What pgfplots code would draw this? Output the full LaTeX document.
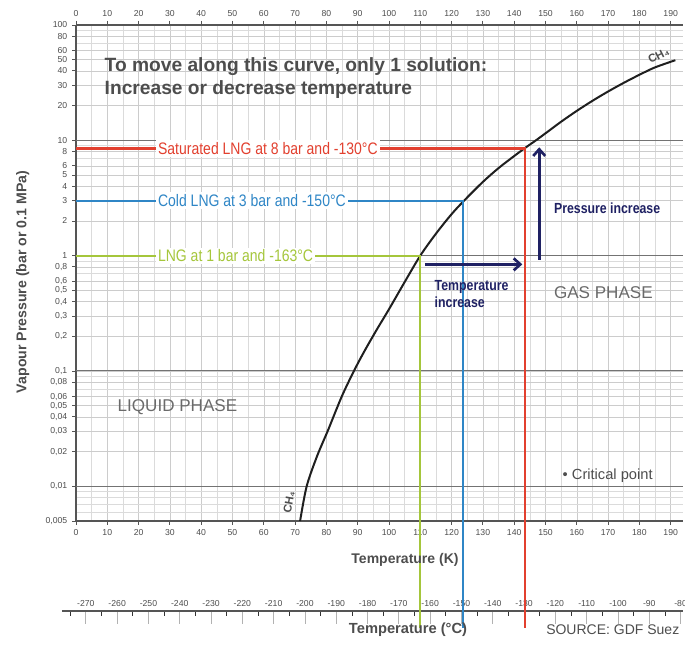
\documentclass[border=0pt]{standalone}
\usepackage{pgfplots}
\pgfplotsset{compat=1.18}
\usepackage{fontspec}
\setmainfont{Liberation Sans}
\newfontfamily\narrowfont{Liberation Sans}[FakeStretch=0.84]
\usetikzlibrary{arrows.meta}
\definecolor{lngred}{HTML}{E2402F}
\definecolor{lngblue}{HTML}{2F86C6}
\definecolor{lnggreen}{HTML}{A5C63B}
\definecolor{navy}{HTML}{1F2163}
\definecolor{txtgray}{HTML}{4D4D4D}
\definecolor{axgray}{HTML}{555555}
\definecolor{phasegray}{HTML}{6A6A6A}
\begin{document}
\begin{tikzpicture}
% ---------------- Celsius axis ----------------
\begin{axis}[
  at={(-10.56pt,-77.5pt)}, anchor=south west,
  scale only axis, width=465.98pt, height=10pt,
  xmin=-4.5, xmax=194, ymin=0, ymax=1,
  axis x line*=top, axis y line=none,
  axis line style={axgray, line width=1.2pt},
  xtick={3.15,13.15,23.15,33.15,43.15,53.15,63.15,73.15,83.15,93.15,103.15,113.15,123.15,133.15,143.15,153.15,163.15,173.15,183.15,193.15},
  xticklabels={-270,-260,-250,-240,-230,-220,-210,-200,-190,-180,-170,-160,-150,-140,-130,-120,-110,-100,-90,-80},
  minor xtick={-1.85,8.15,18.15,28.15,38.15,48.15,58.15,68.15,78.15,88.15,98.15,108.15,118.15,128.15,138.15,148.15,158.15,168.15,178.15,188.15},
  tick align=inside,
  major tick length=10pt, minor tick length=4pt,
  major tick style={black!30, line width=0.6pt},
  minor tick style={black!80, line width=0.6pt},
  xticklabel style={font=\fontsize{6.5}{7}\selectfont, text=txtgray},
]
\addplot[draw=none] coordinates {(0,0)};
\end{axis}
% ---------------- Main axis ----------------
\begin{axis}[
  at={(0pt,0pt)}, anchor=south west,
  scale only axis, width=455.4pt, height=372pt,
  xmin=0, xmax=194, ymode=log, ymin=0.005, ymax=100,
  axis x line*=box, axis y line*=left,
  axis line style={axgray, line width=1.3pt},
  clip=false,
  xtick={0,10,...,190},
  minor xtick={5,15,...,185},
  ytick={0.005,0.01,0.02,0.03,0.04,0.05,0.06,0.08,0.1,0.2,0.3,0.4,0.5,0.6,0.8,1,2,3,4,5,6,8,10,20,30,40,50,60,80,100},
  yticklabels={{0,005},{0,01},{0,02},{0,03},{0,04},{0,05},{0,06},{0,08},{0,1},{0,2},{0,3},{0,4},{0,5},{0,6},{0,8},1,2,3,4,5,6,8,10,20,30,40,50,60,80,100},
  minor ytick={0.006,0.007,0.008,0.009,0.07,0.09,0.7,0.9,7,9,70,90},
  extra y ticks={0.01,0.1,1,10},
  extra y tick labels={},
  extra y tick style={major grid style={draw=black!55, line width=0.7pt}},
  grid=both,
  major grid style={draw=black!20, line width=0.4pt},
  minor grid style={draw=black!14, line width=0.4pt},
  tick align=outside,
  major tick length=3pt, minor tick length=0pt,
  tick style={axgray, line width=0.6pt},
  ticklabel style={font=\fontsize{6.5}{7}\selectfont, text=txtgray},
  /pgf/number format/assume math mode=true,
]
% CH4 vapour pressure curve
\addplot[black!88, line width=1.5pt, smooth, tension=0.5] coordinates {
 (71.6,0.005) (73.7,0.010) (77,0.0182) (80.6,0.031) (84.9,0.060) (88.8,0.100)
 (92,0.146) (96,0.226) (100,0.343) (105,0.59) (110,1.0) (115,1.55) (120,2.29)
 (124,3.0) (130,4.36) (135,5.74) (140,7.31) (144,8.79) (146.6,9.84) (150,11.5)
 (155,14.5) (160,18.0) (165,22.0) (170,26.5) (175,31.5) (180,37.0) (185,42.9) (191.5,49.5)};
% LNG state lines
\addplot[lnggreen, line width=1.6pt] coordinates {(0,1) (110,1) (110,0.00059)};
\addplot[lngblue, line width=1.6pt] coordinates {(0,3) (123.7,3) (123.7,0.00059)};
\addplot[lngred, line width=1.6pt] coordinates {(0,8.5) (143.5,8.5) (143.5,0.00059)};
% arrows
\addplot[navy, line width=2.2pt, -{Straight Barb[length=5pt,width=9pt,line width=2pt]}] coordinates {(111.5,0.84) (142.6,0.84)};
\addplot[navy, line width=2.2pt, -{Straight Barb[length=5pt,width=9pt,line width=2pt]}] coordinates {(148,0.92) (148,8.7)};
% labels on lines
\node[anchor=west, fill=white, inner sep=1.5pt, text=lngred, font=\narrowfont\fontsize{12.5}{14}\selectfont] at (axis cs:25.5,8.5) {Saturated LNG at 8 bar and -130°C};
\node[anchor=west, fill=white, inner sep=1.5pt, text=lngblue, font=\narrowfont\fontsize{12.5}{14}\selectfont] at (axis cs:25.5,3) {Cold LNG at 3 bar and -150°C};
\node[anchor=west, fill=white, inner sep=1.5pt, text=lnggreen, font=\narrowfont\fontsize{12.5}{14}\selectfont] at (axis cs:25.5,1) {LNG at 1 bar and -163°C};
\end{axis}
% ---------------- Top tick labels ----------------
\begin{axis}[
  at={(0pt,0pt)}, anchor=south west,
  scale only axis, width=455.4pt, height=372pt,
  xmin=0, xmax=194, ymin=0, ymax=1,
  axis x line*=top, axis y line=none,
  axis line style={axgray, line width=1.3pt},
  xtick={0,10,...,190},
  tick align=outside, major tick length=3pt,
  tick style={axgray, line width=0.6pt},
  ticklabel style={font=\fontsize{6.5}{7}\selectfont, text=txtgray},
  /pgf/number format/assume math mode=true,
]
\addplot[draw=none] coordinates {(0,0)};
\end{axis}
% ---------------- Text ----------------
\node[anchor=west, align=left, text=txtgray, font=\bfseries\fontsize{14.4}{17.25}\selectfont] at (18pt,331.9pt)
  {To move along this curve, only 1 solution:\\Increase or decrease temperature};
\node[rotate=90, text=txtgray, font=\bfseries\fontsize{10.6}{12}\selectfont] at (-40pt,179.25pt) {Vapour Pressure (bar or 0.1 MPa)};
\node[text=txtgray, font=\bfseries\fontsize{10.5}{12}\selectfont] at (246.75pt,-29.25pt) {Temperature (K)};
\node[text=txtgray, font=\bfseries\fontsize{11}{12}\selectfont] at (249pt,-81.75pt) {Temperature (°C)};
\node[anchor=east, text=txtgray, font=\fontsize{10.5}{12}\selectfont] at (456pt,-81.75pt) {SOURCE: GDF Suez};
\node[anchor=west, text=phasegray, font=\fontsize{12.8}{14}\selectfont] at (27.75pt,85.5pt) {LIQUID PHASE};
\node[anchor=west, text=phasegray, font=\fontsize{12.8}{14}\selectfont] at (355pt,171pt) {GAS PHASE};
\node[anchor=west, text=navy, font=\narrowfont\bfseries\fontsize{11}{12.75}\selectfont] at (355pt,234.75pt) {Pressure increase};
\node[anchor=west, align=left, text=navy, font=\narrowfont\bfseries\fontsize{11}{12.75}\selectfont] at (265.5pt,170.6pt) {Temperature\\increase};
\node[anchor=west, text=txtgray, font=\fontsize{11}{12}\selectfont] at (361.5pt,33.75pt) {• Critical point};
\node[rotate=27, text=txtgray, font=\bfseries\fontsize{8.5}{9}\selectfont] at (437pt,349pt) {CH₄};
\node[rotate=80, text=txtgray, font=\bfseries\fontsize{8.5}{9}\selectfont] at (159.75pt,14.25pt) {CH₄};
\pgfresetboundingbox
\path[use as bounding box] (-57pt,-93pt) rectangle (456.75pt,390.75pt);
\end{tikzpicture}
\end{document}
